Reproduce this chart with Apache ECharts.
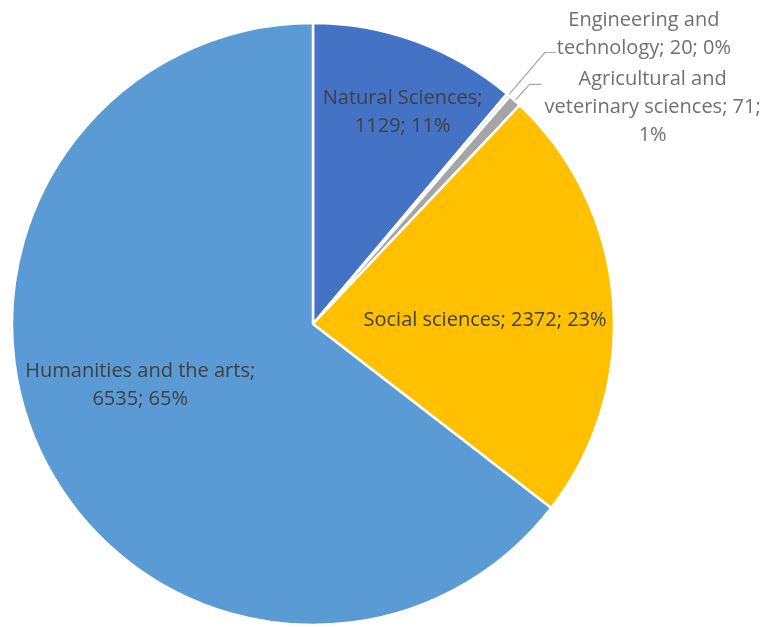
<!DOCTYPE html>
<html>
<head>
<meta charset="utf-8">
<script src="https://cdn.jsdelivr.net/npm/echarts@6/dist/echarts.min.js"></script>
<style>
html,body{margin:0;padding:0;background:#fff;}
#chart{width:763px;height:627px;}
</style>
</head>
<body>
<div id="chart"></div>
<script>
// Data
const categories = [
  'Natural Sciences',
  'Engineering and technology',
  'Agricultural and veterinary sciences',
  'Social sciences',
  'Humanities and the arts'
];
const values = [1129, 20, 71, 2372, 6535];
// Label text layout (line breaks as in the reference)
const labelTemplates = [
  '{n};\n{v}; {p}%',
  'Engineering and\ntechnology; {v}; {p}%',
  'Agricultural and\nveterinary sciences; {v};\n{p}%',
  '{n}; {v}; {p}%',
  '{n};\n{v}; {p}%'
];
const colors = ['#4472C4', '#E3E3E3', '#A5A5A5', '#FFC000', '#5B9BD5'];

// Label nudges (pixels) relative to the default label place, and which are outside labels
const labelShift = [[37, -68], [-2, -18], [0, 23], [19, 8], [-35, -6]];
const outside = [false, true, true, false, false];

const FONT = '"Open Sans", sans-serif';
const FS = 20;
const LH = 28;

function fillTemplate(i, v, p) {
  return labelTemplates[i].replace('{n}', categories[i]).replace('{v}', v).replace('{p}', p);
}

const data = categories.map((c, i) => {
  const item = { name: c, value: values[i], itemStyle: { color: colors[i] } };
  if (outside[i]) {
    item.label = {
      show: true,
      position: 'outside',
      color: '#707070',
      formatter: function (p) {
        const txt = fillTemplate(p.dataIndex, p.value, Math.round(p.percent));
        return txt.split('\n').map(l => '{c|' + l + '}').join('\n');
      },
      rich: { c: { align: 'center', fontSize: FS, lineHeight: LH, color: '#707070', fontFamily: FONT } }
    };
    item.labelLine = {
      show: true,
      length: i === 1 ? 56 : 22,
      length2: i === 1 ? 11 : 12,
      lineStyle: { color: '#a6a6a6', width: 1.2 }
    };
  } else {
    item.label = { show: true, position: 'inside' };
    item.labelLine = { show: false };
  }
  return item;
});

const chart = echarts.init(document.getElementById('chart'), null, { renderer: 'canvas' });
chart.setOption({
  animation: false,
  backgroundColor: '#fff',
  series: [{
    type: 'pie',
    center: [313, 324],
    radius: [0, 301],
    startAngle: 90,
    clockwise: true,
    minShowLabelAngle: 0,
    avoidLabelOverlap: false,
    itemStyle: { borderColor: '#fff', borderWidth: 2.5 },
    label: {
      show: true,
      fontSize: FS,
      lineHeight: LH,
      fontFamily: FONT,
      color: '#404040',
      distanceToLabelLine: 3,
      formatter: function (p) {
        return fillTemplate(p.dataIndex, p.value, Math.round(p.percent));
      }
    },
    emphasis: { disabled: true },
    data: data,
    labelLayout: function (params) {
      const i = params.dataIndex;
      const s = labelShift[i];
      const r = params.labelRect;
      if (outside[i]) {
        return {
          x: r.x + s[0],
          y: r.y + r.height / 2 + s[1],
          align: 'left',
          verticalAlign: 'middle',
          hideOverlap: false,
          labelLinePoints: params.labelLinePoints
        };
      }
      return {
        x: r.x + r.width / 2 + s[0],
        y: r.y + r.height / 2 + s[1],
        align: 'center',
        verticalAlign: 'middle',
        hideOverlap: false
      };
    }
  }]
});
</script>
</body>
</html>
